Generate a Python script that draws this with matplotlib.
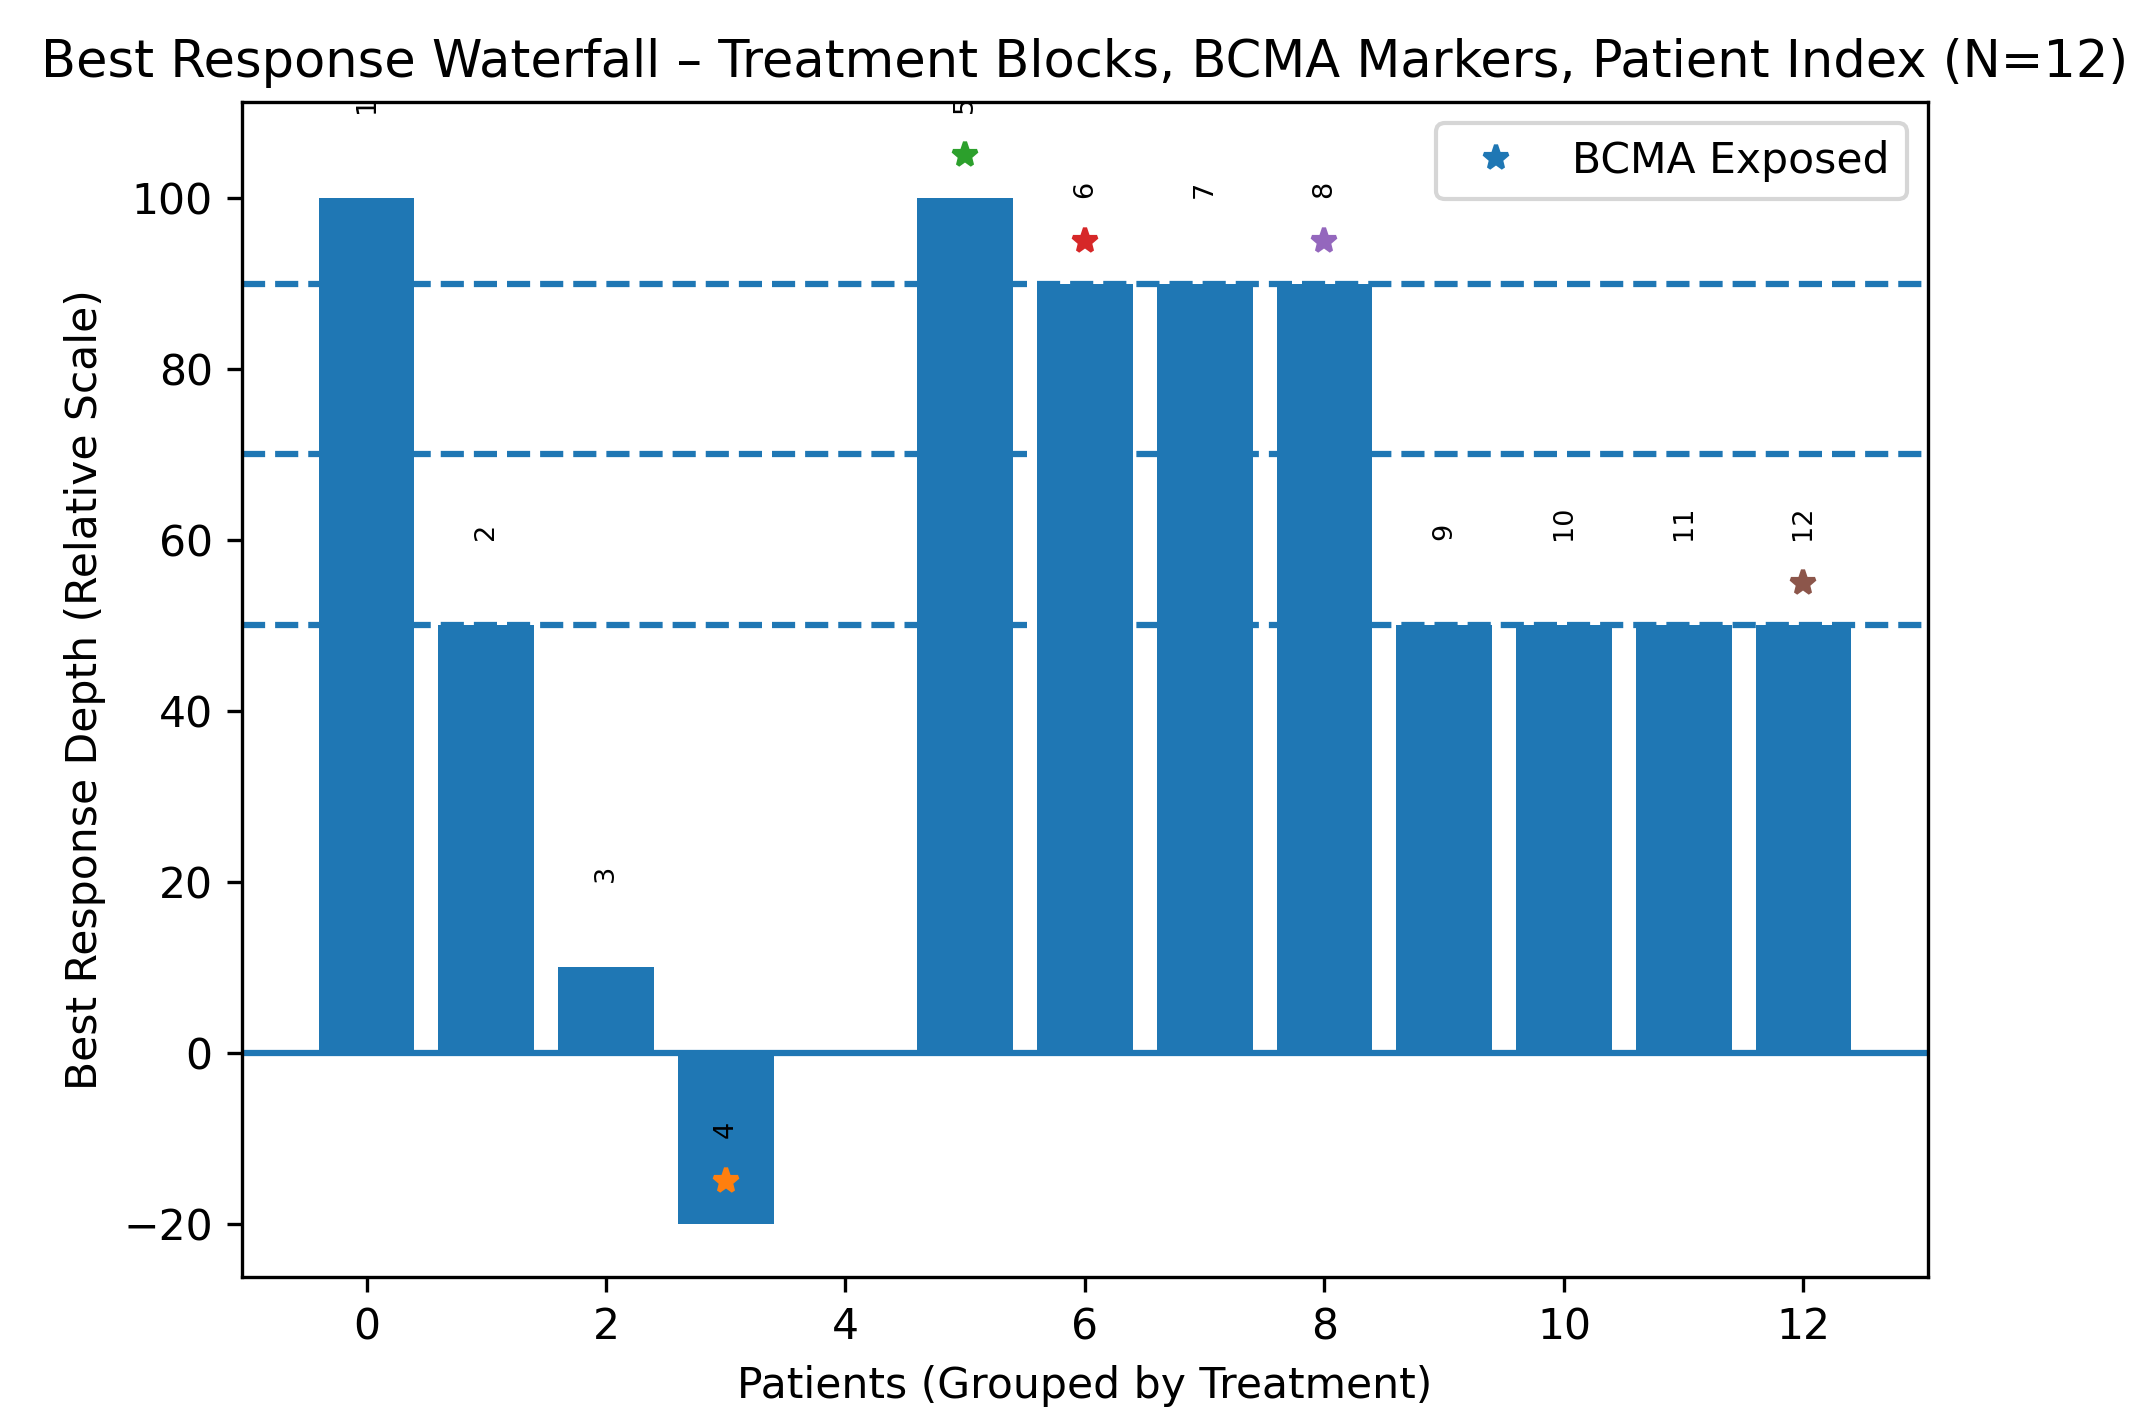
import matplotlib
matplotlib.use('Agg')
import matplotlib.pyplot as plt

plt.rcParams['font.size'] = 10.2
plt.rcParams['lines.markersize'] = 6.1

# patient slots (slot 4 is the gap between treatment blocks)
positions = [0, 1, 2, 3, 4, 5, 6, 7, 8, 9, 10, 11, 12]
depth = [100, 50, 10, -20, 0, 100, 90, 90, 90, 50, 50, 50, 50]
patient_pos = [0, 1, 2, 3, 5, 6, 7, 8, 9, 10, 11, 12]
patient_ids = ['1', '2', '3', '4', '5', '6', '7', '8', '9', '10', '11', '12']
bcma_pos = [3, 5, 6, 8, 12]
thresholds = [50, 70, 90]

fig = plt.figure(figsize=(2132 / 300, 1412 / 300), dpi=300)
plt.subplots_adjust(left=0.1135, right=0.9043, top=0.9278, bottom=0.0956)
ax = fig.gca()

ax.bar(positions, depth, color='C0')
ax.plot([], [], '*', color='C0', label='BCMA Exposed')

for p, pid in zip(patient_pos, patient_ids):
    v = depth[positions.index(p)]
    ax.text(p, v + 10, pid, rotation=90, ha='center', va='bottom', fontsize=6.5)

colors = ['C1', 'C2', 'C3', 'C4', 'C5']
for p, c in zip(bcma_pos, colors):
    v = depth[positions.index(p)]
    ax.plot(p, v + 5, '*', color=c)

for t in thresholds:
    ax.axhline(t, linestyle='--', color='C0')
ax.axhline(0, color='C0')

ax.set_title('Best Response Waterfall – Treatment Blocks, BCMA Markers, Patient Index (N=12)')
ax.set_xlabel('Patients (Grouped by Treatment)')
ax.set_ylabel('Best Response Depth (Relative Scale)')
ax.legend(loc='upper right')

plt.savefig('out.png', dpi=300)
